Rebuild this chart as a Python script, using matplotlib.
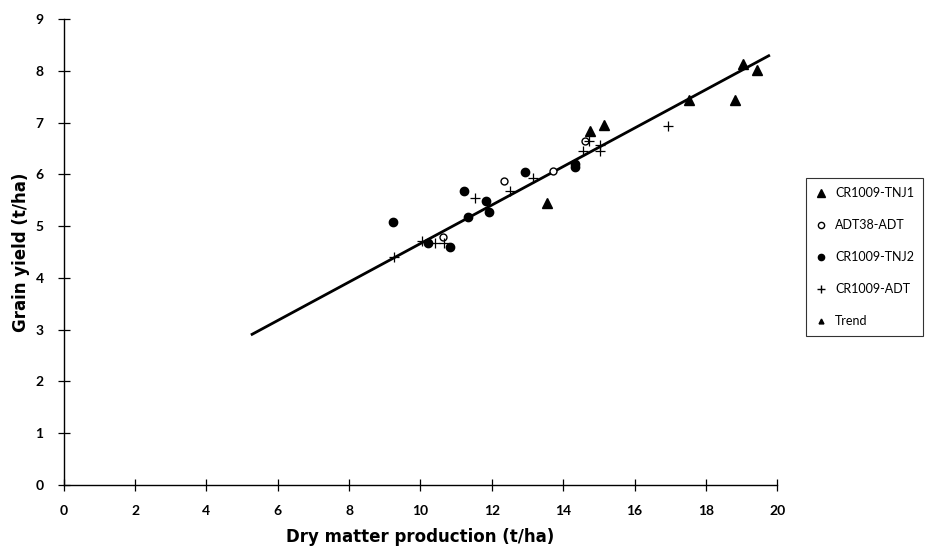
import matplotlib
matplotlib.use("Agg")
import matplotlib.pyplot as plt
from matplotlib.lines import Line2D

plt.rcParams['font.family'] = ['Lato', 'DejaVu Sans']

# ---- data ----
tnj1_x = [13.55, 14.74, 15.13, 17.52, 18.82, 19.04, 19.43]
tnj1_y = [5.45, 6.84, 6.95, 7.43, 7.43, 8.13, 8.02]

adt38_x = [10.63, 12.33, 13.72, 14.60]
adt38_y = [4.79, 5.87, 6.07, 6.65]

tnj2_x = [9.23, 10.21, 10.82, 11.21, 11.33, 11.83, 11.93, 12.92, 14.34, 14.34]
tnj2_y = [5.08, 4.68, 4.59, 5.67, 5.17, 5.48, 5.27, 6.05, 6.20, 6.14]

adt_x = [9.25, 10.04, 10.42, 10.65, 11.52, 12.52, 13.16, 14.55, 14.73, 15.02, 15.02, 16.94]
adt_y = [4.40, 4.72, 4.67, 4.67, 5.55, 5.67, 5.93, 6.46, 6.65, 6.46, 6.57, 6.93]

trend_x = [5.28, 19.76]
trend_y = [2.91, 8.29]

x_ticks = [0, 2, 4, 6, 8, 10, 12, 14, 16, 18, 20]
y_ticks = [0, 1, 2, 3, 4, 5, 6, 7, 8, 9]

fig = plt.figure(figsize=(9.26, 5.52), dpi=100)
ax = fig.add_axes([0.0688, 0.1214, 0.7706, 0.8442])

ax.plot(trend_x, trend_y, color='black', lw=2.0, zorder=2)
ax.plot(tnj1_x, tnj1_y, '^', color='black', ms=6.5, ls='none', zorder=3)
ax.plot(adt38_x, adt38_y, 'o', mfc='white', mec='black', mew=1.0, ms=5, ls='none', zorder=3)
ax.plot(tnj2_x, tnj2_y, 'o', color='black', ms=6, ls='none', zorder=3)
ax.plot(adt_x, adt_y, '+', color='black', ms=7, mew=0.9, ls='none', zorder=3)

ax.set_xlim(0, 20)
ax.set_ylim(0, 9)
ax.set_xticks(x_ticks)
ax.set_yticks(y_ticks)
for s in ['top', 'right']:
    ax.spines[s].set_visible(False)
for s in ['left', 'bottom']:
    ax.spines[s].set_linewidth(1.0)
ax.tick_params(direction='inout', length=9, width=0.9, labelsize=10)
ax.tick_params(axis='x', pad=10)
ax.tick_params(axis='y', pad=10)
for lab in ax.get_xticklabels() + ax.get_yticklabels():
    lab.set_fontweight('bold')

ax.set_xlabel('Dry matter production (t/ha)', fontsize=12, fontweight='heavy',
              family=['DejaVu Sans'], labelpad=8)
ax.set_ylabel('Grain yield (t/ha)', fontsize=12, fontweight='heavy',
              family=['DejaVu Sans'], labelpad=4)

handles = [
    Line2D([], [], marker='^', color='black', ls='none', ms=5.5),
    Line2D([], [], marker='o', mfc='white', mec='black', ls='none', ms=4.5),
    Line2D([], [], marker='o', color='black', ls='none', ms=4.5),
    Line2D([], [], marker='+', color='black', ls='none', ms=6),
    Line2D([], [], marker='^', color='black', ls='none', ms=3.5),
]
labels = ['CR1009-TNJ1', 'ADT38-ADT', 'CR1009-TNJ2', 'CR1009-ADT', 'Trend']
leg = fig.legend(handles, labels, loc='upper left', bbox_to_anchor=(0.864, 0.6884),
                 bbox_transform=fig.transFigure, fontsize=9, labelspacing=1.6,
                 handlelength=1.0, handletextpad=0.6, borderpad=0.7,
                 frameon=True, fancybox=False, edgecolor='black')
leg.get_frame().set_linewidth(0.8)

fig.savefig('out.png', dpi=100)
